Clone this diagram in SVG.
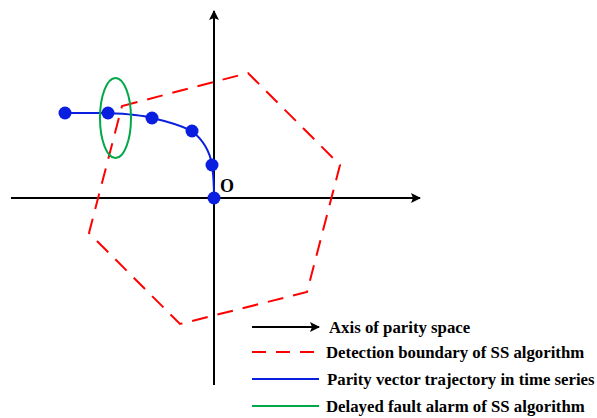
<svg xmlns="http://www.w3.org/2000/svg" width="597" height="418" viewBox="0 0 597 418">
<style>
.ax{stroke:#000;stroke-width:2;fill:none}
.bd{stroke:#f00;stroke-width:2;fill:none;stroke-dasharray:16 10}
.tr{stroke:#0a1ee0;stroke-width:2;fill:none}
.al{stroke:#00a84a;stroke-width:2;fill:none}
.pt{fill:#0a1ee0}
text{font-family:"Liberation Serif","Times New Roman",serif;font-weight:bold;font-size:16.8px;fill:#000}
</style>
<defs>
<marker id="ah" viewBox="0 0 10 10" refX="9" refY="5" markerWidth="10" markerHeight="10" markerUnits="userSpaceOnUse" orient="auto">
<path d="M0,0 L10,5 L0,10 L2,5 Z" fill="#000"/>
</marker>
</defs>
<g id="connectors">
<line class="ax" x1="11" y1="198" x2="420" y2="198" marker-end="url(#ah)"/>
<line class="ax" x1="214" y1="385" x2="214" y2="11" marker-end="url(#ah)"/>
</g>
<g id="boundary">
<polygon class="bd" points="122,106 248,73 340,165 307,292 180,324 89,233"/>
</g>
<g id="trajectory">
<path class="tr" d="M65,113 L108,113 C130,114 145,116 152,118 C170,122 184,127 192,131 C203,140 210,152 212,165 C214,178 214,190 214,198"/>
<circle class="pt" cx="65" cy="113" r="6.5"/>
<circle class="pt" cx="108" cy="113" r="6.5"/>
<circle class="pt" cx="152" cy="118" r="6.5"/>
<circle class="pt" cx="192" cy="131" r="6.5"/>
<circle class="pt" cx="212" cy="165" r="6.5"/>
<circle class="pt" cx="214" cy="198" r="6.5"/>
</g>
<g id="alarm">
<ellipse class="al" cx="115.5" cy="118" rx="15.5" ry="40"/>
</g>
<g id="origin">
<text x="220" y="192" style="font-size:18px">O</text>
</g>
<g id="legend">
<line class="ax" x1="252" y1="327" x2="319" y2="327" marker-end="url(#ah)"/>
<text x="329" y="333">Axis of parity space</text>
<line class="bd" x1="252" y1="352" x2="314" y2="352" style="stroke-dasharray:14 10"/>
<text x="326" y="358">Detection boundary of SS algorithm</text>
<line class="tr" x1="252" y1="379" x2="319" y2="379"/>
<text x="327" y="385">Parity vector trajectory in time series</text>
<line class="al" x1="252" y1="406" x2="319" y2="406"/>
<text x="326" y="412">Delayed fault alarm of SS algorithm</text>
</g>
</svg>
